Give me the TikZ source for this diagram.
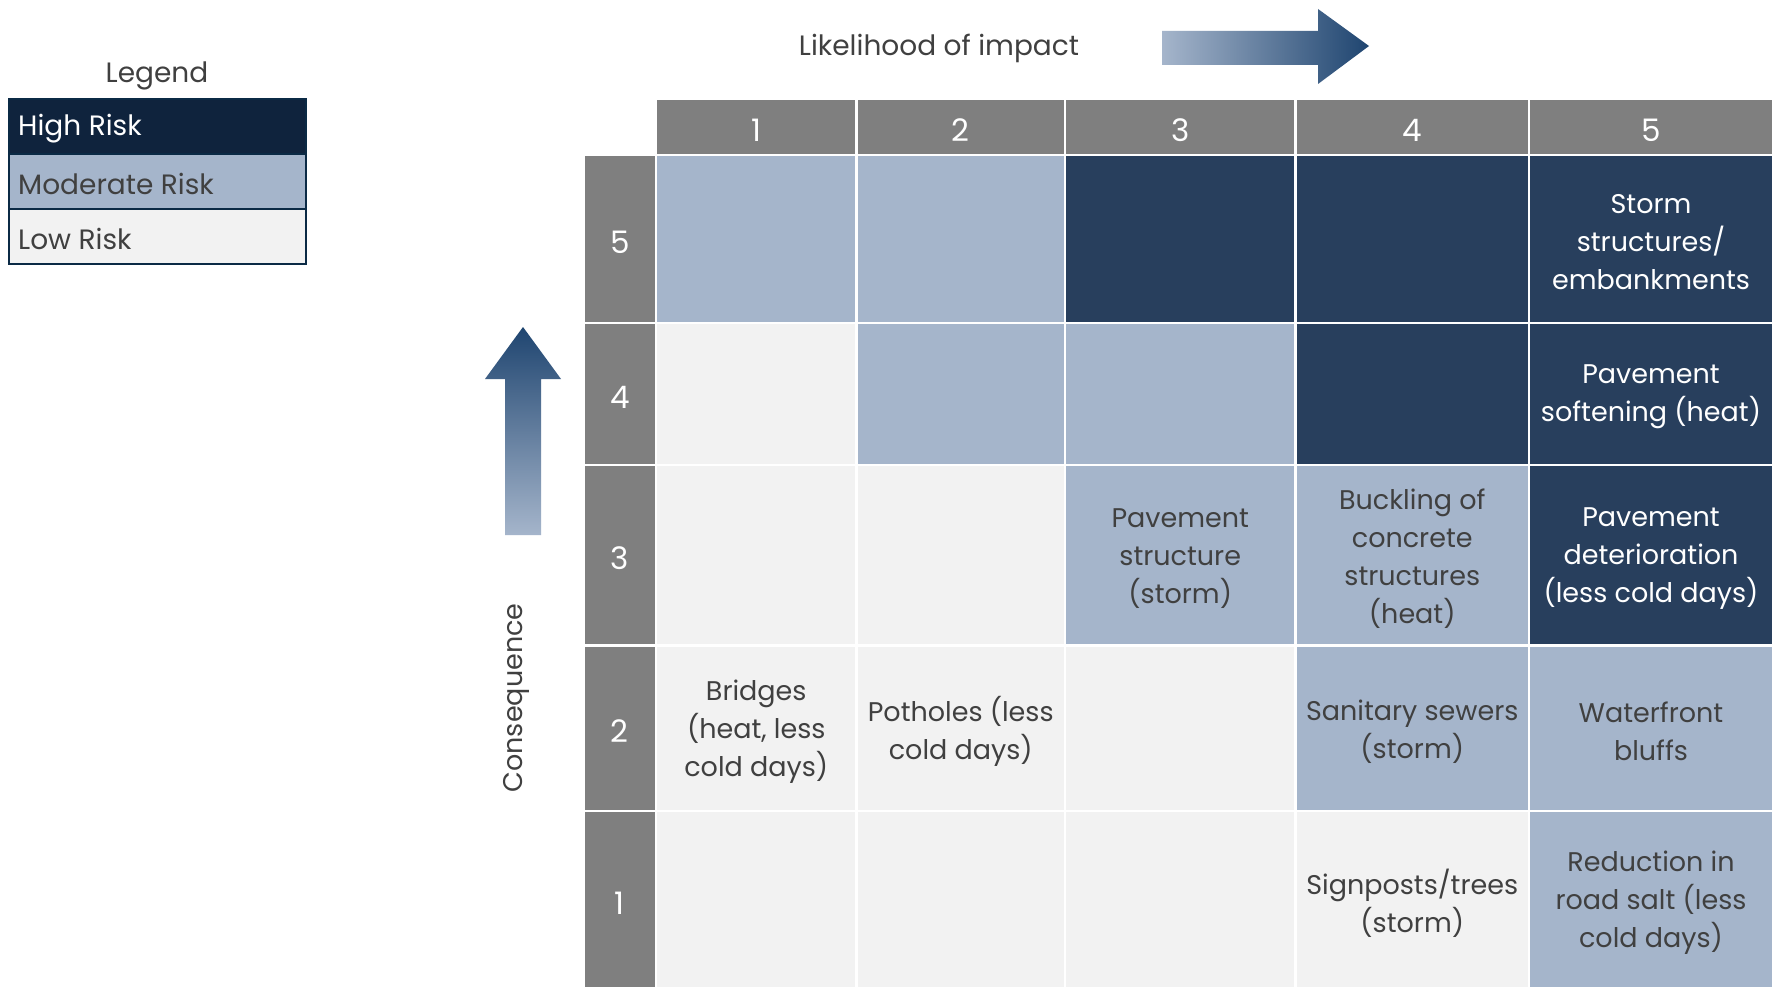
\documentclass[tikz,border=0pt]{standalone}
\usepackage{fontspec}
\setmainfont{Poppins}
\definecolor{hdr}{HTML}{7F7F7F}
\definecolor{high}{HTML}{283F5D}
\definecolor{leghigh}{HTML}{0F233D}
\definecolor{mod}{HTML}{A5B5CB}
\definecolor{low}{HTML}{F2F2F2}
\definecolor{txt}{HTML}{404040}
\definecolor{legborder}{HTML}{0B2A45}
\definecolor{arrdark}{HTML}{1F4570}
\begin{document}
\begin{tikzpicture}[x=1pt,y=-1pt,
  every node/.style={font=\fontsize{27}{38}\selectfont, inner sep=0pt, align=center},
  big/.style={font=\fontsize{28}{38}\selectfont},
  num/.style={font=\fontsize{31}{38}\selectfont},
  cellbox/.style={draw=white, line width=2.5pt},
  wt/.style={text=white, yshift=-3pt},
  gt/.style={text=txt, yshift=-3pt},
  hcell/.style={cellbox, fill=high},
  mcell/.style={cellbox, fill=mod},
  lcell/.style={cellbox, fill=low},
  gcell/.style={cellbox, fill=hdr},
  c1/.style={minimum width=200.5pt},
  c2/.style={minimum width=208.5pt},
  c3/.style={minimum width=230.5pt},
  c4/.style={minimum width=233.5pt},
  c5/.style={minimum width=244pt},
  c0/.style={minimum width=72.25pt},
  rh/.style={minimum height=56pt},
  r5/.style={minimum height=168pt},
  r4/.style={minimum height=142pt},
  r3/.style={minimum height=180.5pt},
  r2/.style={minimum height=165.5pt},
  r1/.style={minimum height=178pt},
  legrow/.style={draw=legborder, line width=2pt, minimum width=297pt, minimum height=55pt}
]
\useasboundingbox (0,0) rectangle (1779,987);
\fill[white] (0,0) rectangle (1779,987);

% Legend
\node[text=txt, big] (legtitle) at (157,76) {Legend};
\node[legrow, fill=leghigh] (leghigh) at (157.5,126.5) {};
\node[legrow, fill=mod] (legmod) at (157.5,181.5) {};
\node[legrow, fill=low] (leglow) at (157.5,236.5) {};
\node[anchor=west, text=white, big] (lhtext) at (18,129) {High Risk};
\node[anchor=west, text=txt, big] (lmtext) at (18,184) {Moderate Risk};
\node[anchor=west, text=txt, big] (lltext) at (18,239) {Low Risk};

% Axis titles
\node[text=txt, big] (likeli) at (939,48) {Likelihood of impact};
\shade[left color=mod, right color=arrdark]
  (1162,31) -- (1318,31) -- (1318,9) -- (1369,46) -- (1318,84) -- (1318,65) -- (1162,65) -- cycle;
\node[text=txt, rotate=90] (conseq) at (516,698) {Consequence};
\shade[bottom color=mod, top color=arrdark]
  (505,535) -- (505,379) -- (485,379) -- (523,327) -- (561,379) -- (541,379) -- (541,535) -- cycle;

% Header row
\node[gcell, c1, rh, label={[wt,num]center:1}] (h1) at (756.25,127) {};
\node[gcell, c2, rh, label={[wt,num]center:2}] (h2) at (960.75,127) {};
\node[gcell, c3, rh, label={[wt,num]center:3}] (h3) at (1180.25,127) {};
\node[gcell, c4, rh, label={[wt,num]center:4}] (h4) at (1412.25,127) {};
\node[gcell, c5, rh, label={[wt,num]center:5}] (h5) at (1651,127) {};

% Row headers
\node[gcell, c0, r5, label={[wt,num]center:5}] (v5) at (619.9,239) {};
\node[gcell, c0, r4, label={[wt,num]center:4}] (v4) at (619.9,394) {};
\node[gcell, c0, r3, label={[wt,num]center:3}] (v3) at (619.9,555.25) {};
\node[gcell, c0, r2, label={[wt,num]center:2}] (v2) at (619.9,728.25) {};
\node[gcell, c0, r1, label={[wt,num]center:1}] (v1) at (619.9,900) {};

% Row 5
\node[mcell, c1, r5] (a51) at (756.25,239) {};
\node[mcell, c2, r5] (a52) at (960.75,239) {};
\node[hcell, c3, r5] (a53) at (1180.25,239) {};
\node[hcell, c4, r5] (a54) at (1412.25,239) {};
\node[hcell, c5, r5, label={[wt]center:{Storm\\structures/\\embankments}}] (a55) at (1651,239) {};

% Row 4
\node[lcell, c1, r4] (a41) at (756.25,394) {};
\node[mcell, c2, r4] (a42) at (960.75,394) {};
\node[mcell, c3, r4] (a43) at (1180.25,394) {};
\node[hcell, c4, r4] (a44) at (1412.25,394) {};
\node[hcell, c5, r4, label={[wt]center:{Pavement\\softening (heat)}}] (a45) at (1651,394) {};

% Row 3
\node[lcell, c1, r3] (a31) at (756.25,555.25) {};
\node[lcell, c2, r3] (a32) at (960.75,555.25) {};
\node[mcell, c3, r3, label={[gt]center:{Pavement\\structure\\(storm)}}] (a33) at (1180.25,555.25) {};
\node[mcell, c4, r3, label={[gt]center:{Buckling of\\concrete\\structures\\(heat)}}] (a34) at (1412.25,555.25) {};
\node[hcell, c5, r3, label={[wt]center:{Pavement\\deterioration\\(less cold days)}}] (a35) at (1651,555.25) {};

% Row 2
\node[lcell, c1, r2, label={[gt]center:{Bridges\\(heat, less\\cold days)}}] (a21) at (756.25,728.25) {};
\node[lcell, c2, r2, label={[gt]center:{Potholes (less\\cold days)}}] (a22) at (960.75,728.25) {};
\node[lcell, c3, r2] (a23) at (1180.25,728.25) {};
\node[mcell, c4, r2, label={[gt]center:{Sanitary sewers\\(storm)}}] (a24) at (1412.25,728.25) {};
\node[mcell, c5, r2, label={[gt]center:{Waterfront\\bluffs}}] (a25) at (1651,728.25) {};

% Row 1
\node[lcell, c1, r1] (a11) at (756.25,900) {};
\node[lcell, c2, r1] (a12) at (960.75,900) {};
\node[lcell, c3, r1] (a13) at (1180.25,900) {};
\node[lcell, c4, r1, label={[gt]center:{Signposts/trees\\(storm)}}] (a14) at (1412.25,900) {};
\node[mcell, c5, r1, label={[gt]center:{Reduction in\\road salt (less\\cold days)}}] (a15) at (1651,900) {};
\end{tikzpicture}
\end{document}
